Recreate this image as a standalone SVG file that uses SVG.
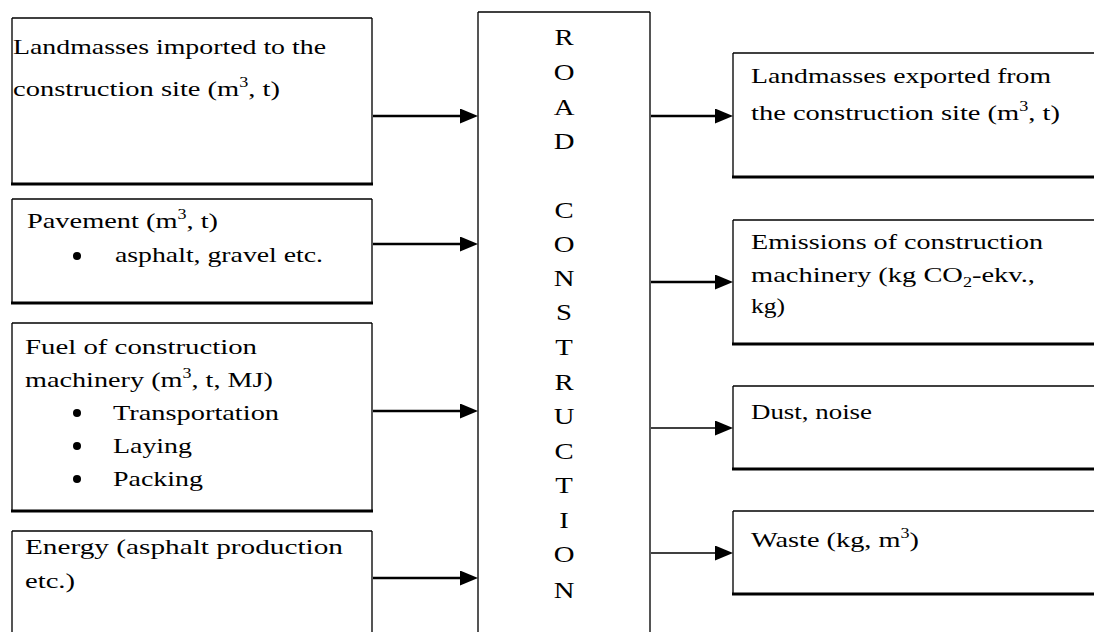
<svg xmlns="http://www.w3.org/2000/svg" width="1094" height="632" viewBox="0 0 1094 632">
  <style>
    .box{fill:#fff;stroke:none}
    .side{stroke:#555;stroke-width:2;fill:none}
    .top{stroke:#000;stroke-width:1.5}
    .bot{stroke:#000;stroke-width:3}
    text{font-family:"Liberation Serif","Times New Roman",serif;font-size:22px;fill:#000}
    .sup{font-size:14px}
    .dot{fill:#000}
    .letters text{font-size:23px;text-anchor:middle}
    .wire{stroke:#000;stroke-width:2.5}
    .wire.thin{stroke-width:1.6}
  </style>
  <defs>
    <marker id="head" markerUnits="userSpaceOnUse" markerWidth="20" markerHeight="16" refX="8" refY="7.5" orient="auto">
      <path d="M0,0 L18,7.5 L0,15 z" fill="#000"/>
    </marker>
  </defs>

  <rect width="1094" height="632" fill="#fff"/>

  <!-- inputs -->
  <g id="in-landmasses">
    <rect class="box" x="12" y="18" width="360" height="166"/>
    <path class="side" d="M12,18 V184 M372,18 V184"/>
    <line class="top" x1="12" y1="18" x2="372" y2="18"/>
    <line class="bot" x1="11" y1="184" x2="373" y2="184"/>
    <text x="13" y="54" textLength="313" lengthAdjust="spacingAndGlyphs">Landmasses imported to the</text>
    <text x="13" y="96" textLength="267" lengthAdjust="spacingAndGlyphs">construction site (m<tspan class="sup" dy="-9">3</tspan><tspan dy="9">, t)</tspan></text>
  </g>

  <g id="in-pavement">
    <rect class="box" x="12" y="199" width="360" height="104"/>
    <path class="side" d="M12,199 V303 M372,199 V303"/>
    <line class="top" x1="12" y1="199" x2="372" y2="199"/>
    <line class="bot" x1="11" y1="303" x2="373" y2="303"/>
    <text x="27" y="228" textLength="191" lengthAdjust="spacingAndGlyphs">Pavement (m<tspan class="sup" dy="-9">3</tspan><tspan dy="9">, t)</tspan></text>
    <circle class="dot" cx="77" cy="256" r="4"/>
    <text x="115" y="262" textLength="208" lengthAdjust="spacingAndGlyphs">asphalt, gravel etc.</text>
  </g>

  <g id="in-fuel">
    <rect class="box" x="12" y="323" width="360" height="188"/>
    <path class="side" d="M12,323 V511 M372,323 V511"/>
    <line class="top" x1="12" y1="323" x2="372" y2="323"/>
    <line class="bot" x1="11" y1="511" x2="373" y2="511"/>
    <text x="25" y="354" textLength="232" lengthAdjust="spacingAndGlyphs">Fuel of construction</text>
    <text x="25" y="387" textLength="248" lengthAdjust="spacingAndGlyphs">machinery (m<tspan class="sup" dy="-9">3</tspan><tspan dy="9">, t, MJ)</tspan></text>
    <circle class="dot" cx="77" cy="413" r="4"/>
    <circle class="dot" cx="77" cy="446" r="4"/>
    <circle class="dot" cx="77" cy="479" r="4"/>
    <text x="113" y="420" textLength="166" lengthAdjust="spacingAndGlyphs">Transportation</text>
    <text x="113" y="453" textLength="79" lengthAdjust="spacingAndGlyphs">Laying</text>
    <text x="113" y="486" textLength="90" lengthAdjust="spacingAndGlyphs">Packing</text>
  </g>

  <g id="in-energy">
    <rect class="box" x="12" y="531" width="360" height="110"/>
    <path class="side" d="M12,531 V641 M372,531 V641"/>
    <line class="top" x1="12" y1="531" x2="372" y2="531"/>
    <text x="25" y="554" textLength="318" lengthAdjust="spacingAndGlyphs">Energy (asphalt production</text>
    <text x="25" y="588" textLength="50" lengthAdjust="spacingAndGlyphs">etc.)</text>
  </g>

  <!-- central process -->
  <g id="road-construction">
    <rect class="box" x="478" y="12" width="172" height="630"/>
    <path class="side" d="M478,12 V641 M650,12 V641"/>
    <line class="top" x1="478" y1="12" x2="650" y2="12"/>
    <g class="letters" transform="translate(564 0) scale(1.25 1)">
      <text x="0" y="45">R</text>
      <text x="0" y="80">O</text>
      <text x="0" y="115">A</text>
      <text x="0" y="149">D</text>
      <text x="0" y="218">C</text>
      <text x="0" y="252">O</text>
      <text x="0" y="286">N</text>
      <text x="0" y="320">S</text>
      <text x="0" y="355">T</text>
      <text x="0" y="390">R</text>
      <text x="0" y="424">U</text>
      <text x="0" y="459">C</text>
      <text x="0" y="493">T</text>
      <text x="0" y="528">I</text>
      <text x="0" y="562">O</text>
      <text x="0" y="598">N</text>
    </g>
  </g>

  <!-- outputs -->
  <g id="out-landmasses">
    <rect class="box" x="733" y="53" width="370" height="124"/>
    <path class="side" d="M733,53 V177"/>
    <line class="top" x1="733" y1="53" x2="1100" y2="53"/>
    <line class="bot" x1="732" y1="177" x2="1100" y2="177"/>
    <text x="751" y="83" textLength="300" lengthAdjust="spacingAndGlyphs">Landmasses exported from</text>
    <text x="751" y="120" textLength="309" lengthAdjust="spacingAndGlyphs">the construction site (m<tspan class="sup" dy="-9">3</tspan><tspan dy="9">, t)</tspan></text>
  </g>

  <g id="out-emissions">
    <rect class="box" x="733" y="220" width="370" height="124"/>
    <path class="side" d="M733,220 V344"/>
    <line class="top" x1="733" y1="220" x2="1100" y2="220"/>
    <line class="bot" x1="732" y1="344" x2="1100" y2="344"/>
    <text x="751" y="249" textLength="292" lengthAdjust="spacingAndGlyphs">Emissions of construction</text>
    <text x="751" y="282" textLength="284" lengthAdjust="spacingAndGlyphs">machinery (kg CO<tspan class="sup" dy="5">2</tspan><tspan dy="-5">-ekv.,</tspan></text>
    <text x="751" y="313" textLength="34" lengthAdjust="spacingAndGlyphs">kg)</text>
  </g>

  <g id="out-dust">
    <rect class="box" x="733" y="386" width="370" height="83"/>
    <path class="side" d="M733,386 V469"/>
    <line class="top" x1="733" y1="386" x2="1100" y2="386"/>
    <line class="bot" x1="732" y1="469" x2="1100" y2="469"/>
    <text x="751" y="419" textLength="121" lengthAdjust="spacingAndGlyphs">Dust, noise</text>
  </g>

  <g id="out-waste">
    <rect class="box" x="733" y="511" width="370" height="83"/>
    <path class="side" d="M733,511 V594"/>
    <line class="top" x1="733" y1="511" x2="1100" y2="511"/>
    <line class="bot" x1="732" y1="594" x2="1100" y2="594"/>
    <text x="751" y="547" textLength="168" lengthAdjust="spacingAndGlyphs">Waste (kg, m<tspan class="sup" dy="-9">3</tspan><tspan dy="9">)</tspan></text>
  </g>

  <!-- flows in and out of the process -->
  <g id="connectors">
    <line class="wire" x1="373" y1="116" x2="468" y2="116" marker-end="url(#head)"/>
    <line class="wire" x1="373" y1="244" x2="468" y2="244" marker-end="url(#head)"/>
    <line class="wire" x1="373" y1="411" x2="468" y2="411" marker-end="url(#head)"/>
    <line class="wire" x1="373" y1="578" x2="468" y2="578" marker-end="url(#head)"/>
    <line class="wire" x1="651" y1="116" x2="723" y2="116" marker-end="url(#head)"/>
    <line class="wire" x1="651" y1="282" x2="723" y2="282" marker-end="url(#head)"/>
    <line class="wire thin" x1="651" y1="428" x2="723" y2="428" marker-end="url(#head)"/>
    <line class="wire thin" x1="651" y1="553" x2="723" y2="553" marker-end="url(#head)"/>
  </g>
</svg>
